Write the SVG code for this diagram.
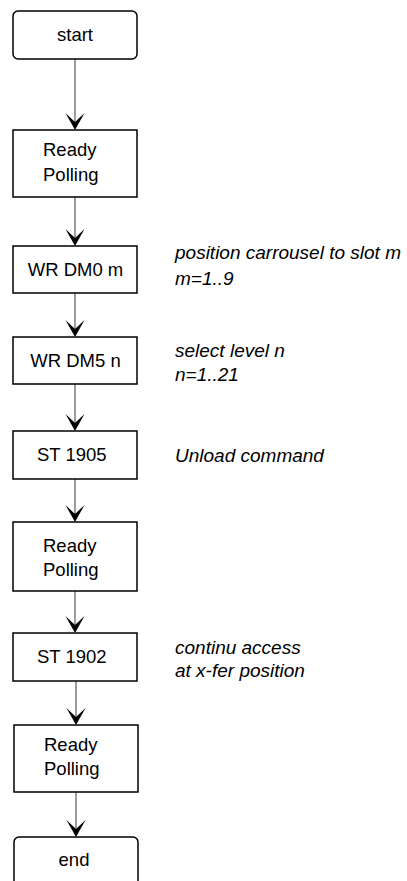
<svg xmlns="http://www.w3.org/2000/svg" width="407" height="881" viewBox="0 0 407 881">
<style>
.box{fill:#fff;stroke:#000;stroke-width:1.5}
.t{font-family:"Liberation Sans",Arial,sans-serif;font-size:18.5px;fill:#000}
.n{font-family:"Liberation Sans",Arial,sans-serif;font-size:19px;font-style:italic;fill:#000}
.ln{stroke:#666;stroke-width:1.3;fill:none}
.ah{fill:#000}
</style>
<rect width="407" height="881" fill="#fff"/>
<g id="connectors">
<line class="ln" x1="75" y1="59" x2="75" y2="125"/><polygon class="ah" points="65.5,113 75,130 84.5,113 75,122"/>
<line class="ln" x1="75" y1="197" x2="75" y2="241"/><polygon class="ah" points="65.5,229 75,246 84.5,229 75,238"/>
<line class="ln" x1="75" y1="293" x2="75" y2="332"/><polygon class="ah" points="65.5,320 75,337 84.5,320 75,329"/>
<line class="ln" x1="75" y1="384" x2="75" y2="426"/><polygon class="ah" points="65.5,414 75,431 84.5,414 75,423"/>
<line class="ln" x1="75" y1="479" x2="75" y2="517"/><polygon class="ah" points="65.5,505 75,522 84.5,505 75,514"/>
<line class="ln" x1="75" y1="591" x2="75" y2="628"/><polygon class="ah" points="65.5,616 75,633 84.5,616 75,625"/>
<line class="ln" x1="76" y1="681" x2="76" y2="720"/><polygon class="ah" points="66.5,708 76,725 85.5,708 76,717"/>
<line class="ln" x1="76" y1="792" x2="76" y2="832"/><polygon class="ah" points="66.5,820 76,837 85.5,820 76,829"/>
</g>
<g id="start"><rect class="box" x="13" y="11" width="124" height="48" rx="5"/><text class="t" x="75" y="41" text-anchor="middle">start</text></g>
<g id="ready1"><rect class="box" x="13" y="130" width="124" height="67"/><text class="t" x="43" y="156">Ready</text><text class="t" x="43" y="181">Polling</text></g>
<g id="wrdm0"><rect class="box" x="13" y="246" width="124" height="47"/><text class="t" x="75.5" y="275.5" text-anchor="middle">WR DM0 m</text></g>
<g id="wrdm5"><rect class="box" x="13" y="337" width="124" height="47"/><text class="t" x="75.5" y="366.5" text-anchor="middle">WR DM5 n</text></g>
<g id="st1905"><rect class="box" x="13" y="431" width="124" height="48"/><text class="t" x="37" y="460.5">ST 1905</text></g>
<g id="ready2"><rect class="box" x="13" y="522" width="124" height="69"/><text class="t" x="43" y="551.5">Ready</text><text class="t" x="43" y="576">Polling</text></g>
<g id="st1902"><rect class="box" x="13" y="633" width="124" height="48"/><text class="t" x="37" y="662.5">ST 1902</text></g>
<g id="ready3"><rect class="box" x="14" y="725" width="124" height="67"/><text class="t" x="44" y="750.5">Ready</text><text class="t" x="44" y="775">Polling</text></g>
<g id="end"><rect class="box" x="14" y="837" width="124" height="50" rx="5"/><text class="t" x="74" y="865.5" text-anchor="middle">end</text></g>
<g id="notes">
<text class="n" x="175" y="258.5">position carrousel to slot m</text>
<text class="n" x="175" y="284.5">m=1..9</text>
<text class="n" x="175" y="356.5">select level n</text>
<text class="n" x="175" y="381">n=1..21</text>
<text class="n" x="175" y="461.5">Unload command</text>
<text class="n" x="175" y="653.5">continu access</text>
<text class="n" x="175" y="677">at x-fer position</text>
</g>
</svg>
